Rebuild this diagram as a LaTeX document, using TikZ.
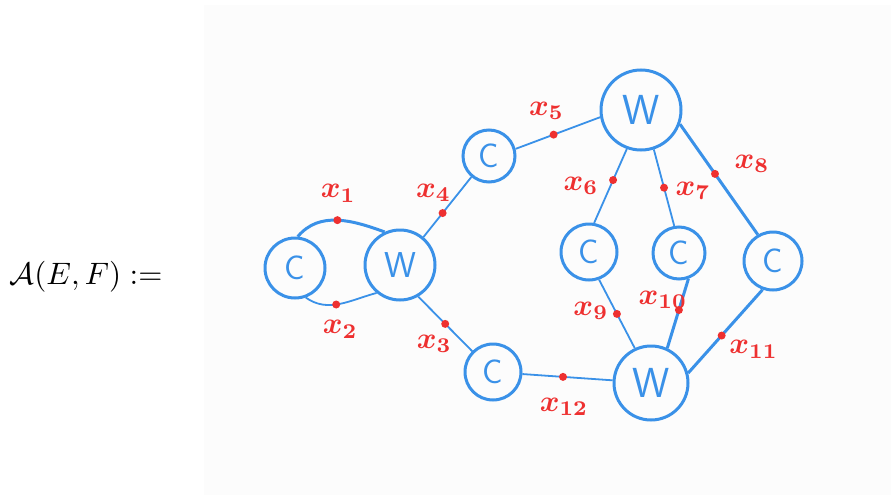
\documentclass[tikz,border=0pt]{standalone}
\usepackage{amsmath, amssymb}
\usepackage{tikz}
\usetikzlibrary{positioning}

\definecolor{penblue}{RGB}{58,145,232}
\definecolor{penred}{RGB}{238,48,48}
\definecolor{boardgray}{RGB}{252,252,252}

\begin{document}
\begin{tikzpicture}[x=1pt, y=-1pt,
    gate/.style={circle, draw=penblue, line width=3pt, inner sep=0pt, text=penblue, font=\sffamily\fontsize{34}{36}\selectfont},
    wgate/.style={gate, font=\sffamily\fontsize{42}{44}\selectfont},
    wire/.style={draw=penblue, line width=1.8pt},
    heavy/.style={draw=penblue, line width=3pt},
    dot/.style={circle, fill=penred, inner sep=0pt, minimum size=8pt},
    lbl/.style={text=penred, scale=3, inner sep=0pt, font=\boldmath}]
  \useasboundingbox (0,0) rectangle (891,495);
  \fill[boardgray] (204,5) rectangle (891,495);
  \node[scale=3.1] (lhs) at (86,277) {$\mathcal{A}(E,F) :=$};

  % gates
  \node[gate, minimum size=60pt] (c1) at (295,268) {C};
  \node[wgate, minimum size=70pt, font=\sffamily\fontsize{36}{38}\selectfont] (w1) at (400,265) {W};
  \node[gate, minimum size=52pt] (c2) at (489,156) {C};
  \node[wgate, minimum size=80pt] (w2) at (641,110) {W};
  \node[gate, minimum size=56pt] (c3) at (493,372) {C};
  \node[wgate, minimum size=74pt] (w3) at (651,383) {W};
  \node[gate, minimum size=56pt] (c4) at (589,252) {C};
  \node[gate, minimum size=52pt] (c5) at (679,253) {C};
  \node[gate, minimum size=58pt] (c6) at (773,261) {C};

  % wires with variables
  \draw[heavy] (c1.85) to[out=50, in=160] node[dot, pos=0.5] (d1) {} (w1.115);
  \draw[wire] (c1.-70) to[out=-35, in=-165] node[dot, pos=0.45] (d2) {} (w1.-130);
  \draw[wire] (w1.-60) -- node[dot, pos=0.5] (d3) {} (c3.135);
  \draw[wire] (w1.50) -- node[dot, pos=0.4] (d4) {} (c2.-130);
  \draw[wire] (c2.15) -- node[dot, pos=0.45] (d5) {} (w2.190);
  \draw[wire] (w2.-110) -- node[dot, pos=0.42] (d6) {} (c4.80);
  \draw[wire] (w2.-72) -- node[dot, pos=0.5] (d7) {} (c5.100);
  \draw[heavy] (w2.-20) -- node[dot, pos=0.45] (d8) {} (c6.120);
  \draw[wire] (c4.-70) -- node[dot, pos=0.5] (d9) {} (w3.115);
  \draw[heavy] (c5.-70) -- node[dot, pos=0.45] (d10) {} (w3.65);
  \draw[heavy] (c6.-110) -- node[dot, pos=0.55] (d11) {} (w3.15);
  \draw[wire] (c3) -- node[dot, pos=0.45] (d12) {} (w3);

  % labels
  \node[lbl] (l1) at ([shift={(1,-27)}]d1) {$x_1$};
  \node[lbl] (l2) at ([shift={(4,25)}]d2) {$x_2$};
  \node[lbl] (l3) at ([shift={(-11,20)}]d3) {$x_3$};
  \node[lbl] (l4) at ([shift={(-9,-20)}]d4) {$x_4$};
  \node[lbl] (l5) at ([shift={(-7,-24)}]d5) {$x_5$};
  \node[lbl] (l6) at ([shift={(-32,6)}]d6) {$x_6$};
  \node[lbl] (l7) at ([shift={(29,3)}]d7) {$x_7$};
  \node[lbl] (l8) at ([shift={(37,-10)}]d8) {$x_8$};
  \node[lbl] (l9) at ([shift={(-26,-3)}]d9) {$x_9$};
  \node[lbl] (l10) at ([shift={(-16,-10)}]d10) {$x_{10}$};
  \node[lbl] (l11) at ([shift={(32,14)}]d11) {$x_{11}$};
  \node[lbl] (l12) at ([shift={(1,30)}]d12) {$x_{12}$};
\end{tikzpicture}
\end{document}
